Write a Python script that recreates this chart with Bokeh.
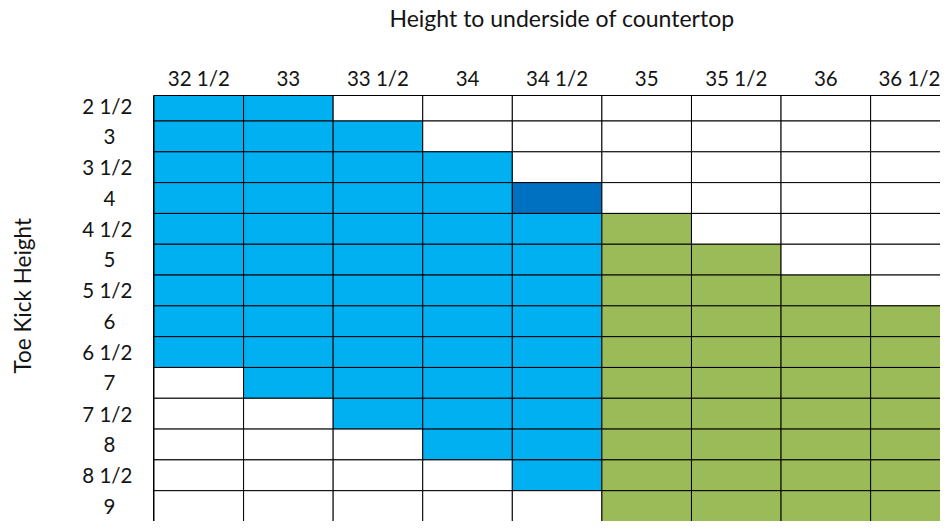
import math
from bokeh.plotting import figure
from bokeh.models import Range1d, FixedTicker, LinearAxis, Title, ColumnDataSource
from bokeh.embed import file_html
from bokeh.resources import INLINE

# ---- data ----
col_labels = ["32 1/2", "33", "33 1/2", "34", "34 1/2", "35", "35 1/2", "36", "36 1/2"]
row_labels = ["2 1/2", "3", "3 1/2", "4", "4 1/2", "5", "5 1/2", "6", "6 1/2",
              "7", "7 1/2", "8", "8 1/2", "9"]
# cell status per row (B = blue, D = dark blue, G = green, W = white)
status = [
    "BBWWWWWWW",
    "BBBWWWWWW",
    "BBBBWWWWW",
    "BBBBDWWWW",
    "BBBBBGWWW",
    "BBBBBGGWW",
    "BBBBBGGGW",
    "BBBBBGGGG",
    "BBBBBGGGG",
    "WBBBBGGGG",
    "WWBBBGGGG",
    "WWWBBGGGG",
    "WWWWBGGGG",
    "WWWWWGGGG",
]
x_title = "Height to underside of countertop"
y_title = "Toe Kick Height"

palette = {"B": "#00B0F0", "D": "#0070C0", "G": "#9BBB59", "W": "#FFFFFF"}

xs, ys, fills = [], [], []
for ri, row in enumerate(status):
    for ci, code in enumerate(row):
        xs.append(ci + 0.5)
        ys.append(ri)
        fills.append(palette[code])
src = ColumnDataSource(dict(x=xs, y=ys, fill=fills))

FONT = "Lato"
TXT = "#141414"
TICK_FS = "20.5px"

p = figure(width=940, height=521, output_backend="svg", toolbar_location=None,
           x_range=Range1d(-0.0056, 8.78), y_range=Range1d(13.5, -0.328),
           x_axis_location="above", min_border_left=153, min_border_top=95,
           min_border_right=0, min_border_bottom=0)
p.background_fill_color = "white"
p.border_fill_color = "white"
p.outline_line_color = None
p.grid.visible = False

p.rect(x="x", y="y", width=1, height=1, source=src, fill_color="fill",
       line_color="black", line_width=1)


def style(ax, standoff):
    ax.axis_line_color = None
    ax.major_tick_line_color = None
    ax.minor_tick_line_color = None
    ax.major_tick_out = 0
    ax.major_tick_in = 0
    ax.minor_tick_out = 0
    ax.minor_tick_in = 0
    ax.major_label_text_font = FONT
    ax.major_label_text_font_size = TICK_FS
    ax.major_label_text_color = TXT
    ax.major_label_standoff = standoff


# column labels (top)
xa = p.xaxis[0]
xa.ticker = FixedTicker(ticks=[i + 0.5 for i in range(len(col_labels))], minor_ticks=[])
xa.major_label_overrides = {i + 0.5: lab for i, lab in enumerate(col_labels)}
style(xa, 6)
xa.axis_line_color = "black"
xa.axis_line_width = 1

# row labels: whole numbers (inner axis) and halves (outer axis), so both look centred
whole = [i for i, lab in enumerate(row_labels) if "/" not in lab]
halves = [i for i, lab in enumerate(row_labels) if "/" in lab]
ya = p.yaxis[0]
ya.ticker = FixedTicker(ticks=whole, minor_ticks=[])
ya.major_label_overrides = {i: row_labels[i] for i in whole}
style(ya, 38)
ya.axis_line_color = "black"
ya.axis_line_width = 1

yb = LinearAxis(ticker=FixedTicker(ticks=halves, minor_ticks=[]))
yb.major_label_overrides = {i: row_labels[i] for i in halves}
style(yb, -32)
p.add_layout(yb, "left")


def spacer(size, tick):
    # an empty band of fixed size: one invisible tick, no visible label
    ax = LinearAxis(ticker=FixedTicker(ticks=[tick], minor_ticks=[]))
    ax.axis_line_color = None
    ax.major_tick_line_color = None
    ax.minor_tick_line_color = None
    ax.major_label_text_color = None
    ax.major_label_text_font_size = "1px"
    ax.major_label_standoff = 0
    ax.major_tick_in = 0
    ax.minor_tick_in = 0
    ax.minor_tick_out = 0
    ax.major_tick_out = size
    return ax


p.add_layout(spacer(28, 4.0), "above")
p.add_layout(Title(text=x_title, align="left", offset=236, standoff=4,
                   vertical_align="middle", text_font=FONT, text_font_size="23px",
                   text_font_style="normal", text_color=TXT), "above")

p.add_layout(spacer(35, 6.0), "left")
p.add_layout(Title(text=y_title, align="left", offset=148, standoff=15,
                   vertical_align="middle", text_font=FONT, text_font_size="22.5px",
                   text_font_style="normal", text_color=TXT), "left")

open("out.html", "w").write(file_html(p, INLINE))
